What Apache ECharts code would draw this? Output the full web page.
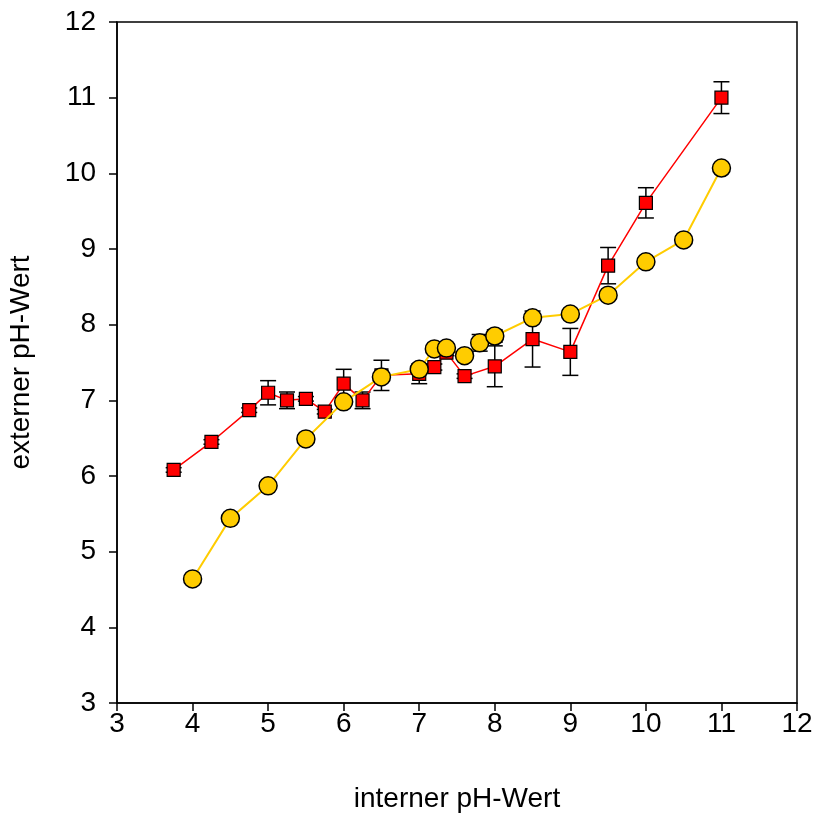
<!DOCTYPE html>
<html>
<head>
    <meta charset="utf-8">
    <title>pH-Wert</title>
    <script src="https://cdn.jsdelivr.net/npm/echarts@6/dist/echarts.min.js"></script>
    <style>
        body { margin: 0; background: #fff; }
        #main { width: 814px; height: 815px; }
    </style>
</head>
<body>
<div id="main"></div>
<script type="text/javascript">

    // rote Quadrate
    var redX   = [3.75, 4.25, 4.75, 5.0, 5.25, 5.5, 5.75, 6.0, 6.25, 6.5, 7.0, 7.2, 7.36, 7.6, 8.0, 8.5, 9.0, 9.5, 10.0, 11.0];
    var redY   = [6.08, 6.45, 6.87, 7.10, 7.00, 7.02, 6.85, 7.22, 7.00, 7.33, 7.35, 7.44, 7.63, 7.32, 7.45, 7.81, 7.64, 8.78, 9.61, 11.0];
    var redErr = [0.03, 0.03, 0.03, 0.16, 0.11, 0.03, 0.03, 0.19, 0.11, 0.20, 0.13, 0.04, 0.04, 0.03, 0.27, 0.37, 0.31, 0.24, 0.20, 0.21];

    // gelbe Kreise
    var yelX   = [4.0, 4.5, 5.0, 5.5, 6.0, 6.5, 7.0, 7.2, 7.36, 7.6, 7.8, 8.0, 8.5, 9.0, 9.5, 10.0, 10.5, 11.0];
    var yelY   = [4.64, 5.44, 5.87, 6.49, 6.98, 7.31, 7.41, 7.68, 7.69, 7.59, 7.76, 7.85, 8.09, 8.14, 8.39, 8.83, 9.12, 10.07];
    var yelErr = [0.04, 0.05, 0.05, 0.05, 0.05, 0.05, 0.05, 0.05, 0.05, 0.05, 0.11, 0.08, 0.05, 0.05, 0.05, 0.04, 0.04, 0.03];

    var xTicks = [3, 4, 5, 6, 7, 8, 9, 10, 11, 12];
    var yTicks = [3, 4, 5, 6, 7, 8, 9, 10, 11, 12];

    function pairs(xs, ys) {
        var out = [];
        for (var i = 0; i < xs.length; i++) out.push([xs[i], ys[i]]);
        return out;
    }
    function errData(xs, ys, es) {
        var out = [];
        for (var i = 0; i < xs.length; i++) out.push([xs[i], ys[i] - es[i], ys[i] + es[i]]);
        return out;
    }

    // Fehlerbalken
    function renderErr(params, api) {
        var lo = api.coord([api.value(0), api.value(1)]);
        var hi = api.coord([api.value(0), api.value(2)]);
        var w = 8;
        var st = { stroke: '#000', lineWidth: 1.5 };
        return {
            type: 'group',
            children: [
                { type: 'line', shape: { x1: lo[0], y1: lo[1], x2: hi[0], y2: hi[1] }, style: st },
                { type: 'line', shape: { x1: lo[0] - w, y1: lo[1], x2: lo[0] + w, y2: lo[1] }, style: st },
                { type: 'line', shape: { x1: hi[0] - w, y1: hi[1], x2: hi[0] + w, y2: hi[1] }, style: st }
            ]
        };
    }

    var myChart = echarts.init(document.getElementById('main'));
    var font = 'Liberation Sans, Arial, sans-serif';

    myChart.setOption({
        animation: false,
        grid: {
            left: 117, top: 22, right: 17, bottom: 112,
            outerBoundsMode: 'none', containLabel: false,
            show: true, borderColor: '#000', borderWidth: 1.5
        },
        xAxis: {
            type: 'value', min: xTicks[0], max: xTicks[xTicks.length - 1], interval: 1,
            name: 'interner pH-Wert', nameLocation: 'middle', nameGap: 82,
            nameTextStyle: { fontFamily: font, fontSize: 28, color: '#000' },
            axisLine: { show: true, onZero: false, lineStyle: { color: '#000', width: 1.5 } },
            axisTick: { show: true, length: 8, lineStyle: { color: '#000', width: 1.5 } },
            axisLabel: { fontFamily: font, fontSize: 28, color: '#000', margin: 7 },
            splitLine: { show: false }
        },
        yAxis: {
            type: 'value', min: yTicks[0], max: yTicks[yTicks.length - 1], interval: 1,
            name: 'externer pH-Wert', nameLocation: 'middle', nameGap: 82,
            nameTextStyle: { fontFamily: font, fontSize: 28, color: '#000' },
            axisLine: { show: true, onZero: false, lineStyle: { color: '#000', width: 1.5 } },
            axisTick: { show: true, length: 8, lineStyle: { color: '#000', width: 1.5 } },
            axisLabel: { fontFamily: font, fontSize: 28, color: '#000', margin: 21 },
            splitLine: { show: false }
        },
        series: [
            {
                type: 'custom', renderItem: renderErr, z: 2,
                data: errData(redX, redY, redErr)
            },
            {
                type: 'line', z: 3,
                data: pairs(redX, redY),
                symbol: 'rect', symbolSize: 13,
                lineStyle: { color: '#ff0000', width: 1.5 },
                itemStyle: { color: '#ff0000', borderColor: '#000', borderWidth: 1.2 }
            },
            {
                type: 'custom', renderItem: renderErr, z: 4,
                data: errData(yelX, yelY, yelErr)
            },
            {
                type: 'line', z: 5,
                data: pairs(yelX, yelY),
                symbol: 'circle', symbolSize: 18,
                lineStyle: { color: '#ffcc00', width: 2 },
                itemStyle: { color: '#ffcc00', borderColor: '#000', borderWidth: 1.5 }
            }
        ]
    });

</script>
</body>
</html>
